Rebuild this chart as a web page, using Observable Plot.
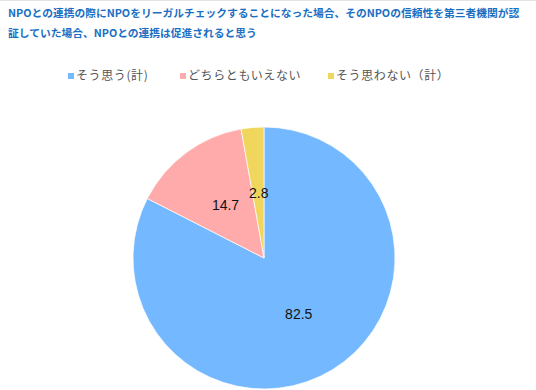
<!DOCTYPE html>
<html>
<head>
<meta charset="utf-8">
<script src="https://cdn.jsdelivr.net/npm/d3@7"></script>
<script src="https://cdn.jsdelivr.net/npm/@observablehq/plot@0.6"></script>
<style>
  html, body { margin: 0; padding: 0; background: #fff; }
  body { width: 536px; height: 390px; position: relative; overflow: hidden; border-top: 1px solid #e3e3e3; box-sizing: border-box; font-family: "Noto Sans CJK JP", "Noto Sans", sans-serif; }
  #title { position: absolute; left: 8px; top: 2px; width: 528px; font-size: 10.75px; font-weight: bold; color: #1a6fc4; line-height: 20px; white-space: nowrap; }
  #legend { position: absolute; left: 0; top: 64px; width: 536px; height: 20px; font-size: 12px; color: #555; }
  .item { position: absolute; top: 0; line-height: 20px; letter-spacing: 0.6px; white-space: nowrap; }
  .sw { display: inline-block; width: 6px; height: 6px; margin-right: 2px; vertical-align: 1px; }
  #chart { position: absolute; left: 0; top: 100px; }
</style>
</head>
<body>
<div id="title">NPOとの連携の際にNPOをリーガルチェックすることになった場合、そのNPOの信頼性を第三者機関が認<br>証していた場合、NPOとの連携は促進されると思う</div>
<div id="legend"></div>
<div id="chart"></div>
<script>
const categories = ["そう思う(計)", "どちらともいえない", "そう思わない（計）"];
const values = [82.5, 14.7, 2.8];
const colors = ["#74b9ff", "#ffabab", "#f0d65c"];
const legendX = [68, 180, 328];

// legend
const legend = document.getElementById("legend");
categories.forEach((c, i) => {
  const d = document.createElement("div");
  d.className = "item";
  d.style.left = legendX[i] + "px";
  d.innerHTML = `<span class="sw" style="background:${colors[i]}"></span>${c}`;
  legend.appendChild(d);
});

// pie geometry in data units (unit circle)
const pie = d3.pie().sort(null).value(d => d.value)
  .startAngle(0).endAngle(2 * Math.PI);
const data = categories.map((c, i) => ({category: c, value: values[i], color: colors[i]}));
const arcs = pie(data);
const labels = arcs.map(a => {
  const mid = (a.startAngle + a.endAngle) / 2;
  const rr = 0.5;
  return {x: rr * Math.sin(mid), y: rr * Math.cos(mid), text: String(a.data.value)};
});

// custom pie mark (function mark) using Plot scales
function pieMark(arcs) {
  return (index, scales) => {
    const {x, y} = scales;
    const cx = x(0), cy = y(0);
    const r = Math.abs(x(1) - x(0));
    const arcGen = d3.arc().innerRadius(0).outerRadius(r);
    const g = d3.create("svg:g").attr("transform", `translate(${cx},${cy})`);
    g.selectAll("path").data(arcs).join("path")
      .attr("d", arcGen)
      .attr("fill", d => d.data.color)
      .attr("stroke", "#ffffff")
      .attr("stroke-width", 0.7);
    return g.node();
  };
}

const plot = Plot.plot({
  width: 536,
  height: 290,
  marginLeft: 133,
  marginRight: 141,
  marginTop: 26,
  marginBottom: 2,
  x: {domain: [-1, 1], axis: null},
  y: {domain: [-1, 1], axis: null},
  marks: [
    pieMark(arcs),
    Plot.text(labels, {x: "x", y: "y", text: "text", fontSize: 14, fill: "#111", fontFamily: "Liberation Sans, Arial, sans-serif"})
  ]
});
document.getElementById("chart").appendChild(plot);
</script>
</body>
</html>
